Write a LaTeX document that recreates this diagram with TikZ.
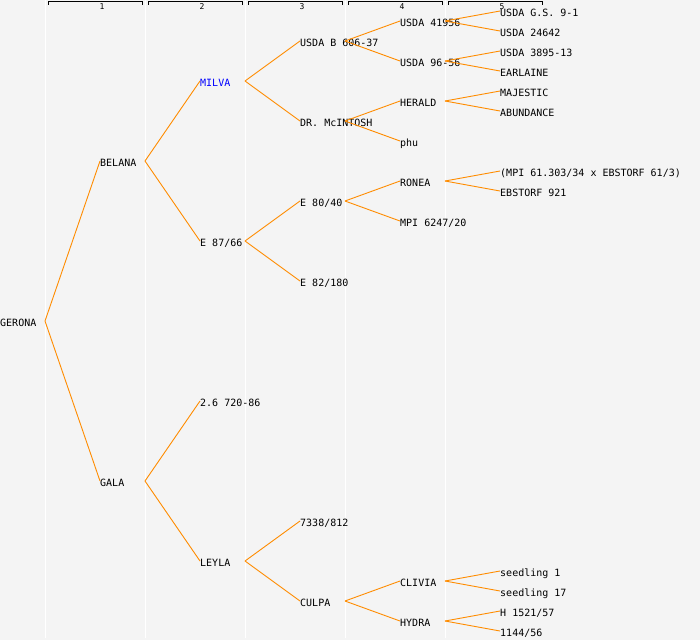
\documentclass[tikz,border=0pt]{standalone}
\usepackage{fontspec}
\setmonofont{DejaVu Sans Mono}
\usepackage{tikz}
\definecolor{panelgray}{HTML}{F4F4F4}
\definecolor{linkorange}{HTML}{FF8C00}
\definecolor{milvablue}{HTML}{0000FF}

\begin{document}
\begin{tikzpicture}[x=1pt,y=-1pt,
    cultivar/.style={anchor=west,inner sep=0pt,text height=10pt,text depth=0pt,font=\ttfamily\fontsize{10}{12}\selectfont},
    gennum/.style={inner sep=0pt,font=\ttfamily\fontsize{8}{9}\selectfont},
    link/.style={draw=linkorange,line width=0.9pt},
    colsep/.style={draw=white,line width=1pt}]

	\useasboundingbox[fill=panelgray] (0,0) rectangle (700,640);
	\foreach \x in {45,145,...,445}
		\draw[colsep] (\x,0) -- (\x,638);

	% generation brackets
	\foreach \g in {1,...,5} {
		\draw[line width=0.9pt] (100*\g-52,4.5) -- (100*\g-52,1.5) -- (100*\g+42,1.5) -- (100*\g+42,4.5);
		\node[gennum] (gen\g) at (100*\g+2,6.5) {\g};
	}

	\node[cultivar] (gerona) at (0,321) {GERONA};

	\node[cultivar] (belana) at (100,161) {BELANA};
	\node[cultivar] (gala) at (100,481) {GALA};

	\node[cultivar,text=milvablue] (milva) at (200,81) {MILVA};
	\node[cultivar] (e8766) at (200,241) {E 87/66};
	\node[cultivar] (p26) at (200,401) {2.6 720-86};
	\node[cultivar] (leyla) at (200,561) {LEYLA};

	\node[cultivar] (usdab) at (300,41) {USDA B 606-37};
	\node[cultivar] (mcintosh) at (300,121) {DR. McINTOSH};
	\node[cultivar] (e8040) at (300,201) {E 80/40};
	\node[cultivar] (e82180) at (300,281) {E 82/180};
	\node[cultivar] (m7338) at (300,521) {7338/812};
	\node[cultivar] (culpa) at (300,601) {CULPA};

	\node[cultivar] (usda41956) at (400,21) {USDA 41956};
	\node[cultivar] (usda9656) at (400,61) {USDA 96-56};
	\node[cultivar] (herald) at (400,101) {HERALD};
	\node[cultivar] (phu) at (400,141) {phu};
	\node[cultivar] (ronea) at (400,181) {RONEA};
	\node[cultivar] (mpi6247) at (400,221) {MPI 6247/20};
	\node[cultivar] (clivia) at (400,581) {CLIVIA};
	\node[cultivar] (hydra) at (400,621) {HYDRA};

	\node[cultivar] (usdags) at (500,11) {USDA G.S. 9-1};
	\node[cultivar] (usda24642) at (500,31) {USDA 24642};
	\node[cultivar] (usda3895) at (500,51) {USDA 3895-13};
	\node[cultivar] (earlaine) at (500,71) {EARLAINE};
	\node[cultivar] (majestic) at (500,91) {MAJESTIC};
	\node[cultivar] (abundance) at (500,111) {ABUNDANCE};
	\node[cultivar] (mpicross) at (500,171) {(MPI 61.303/34 x EBSTORF 61/3)};
	\node[cultivar] (ebstorf) at (500,191) {EBSTORF 921};
	\node[cultivar] (seedlinga) at (500,571) {seedling 1};
	\node[cultivar] (seedlingb) at (500,591) {seedling 17};
	\node[cultivar] (h1521) at (500,611) {H 1521/57};
	\node[cultivar] (n1144) at (500,631) {1144/56};

	% parent -> two parents
	\foreach \p/\a/\b in {gerona/belana/gala, belana/milva/e8766, gala/p26/leyla,
			milva/usdab/mcintosh, e8766/e8040/e82180, leyla/m7338/culpa,
			usdab/usda41956/usda9656, mcintosh/herald/phu, e8040/ronea/mpi6247,
			culpa/clivia/hydra, usda41956/usdags/usda24642, usda9656/usda3895/earlaine,
			herald/majestic/abundance, ronea/mpicross/ebstorf,
			clivia/seedlinga/seedlingb, hydra/h1521/n1144}
		\draw[link] ([xshift=45pt]\p.west) edge (\a.west) edge (\b.west);

\end{tikzpicture}
\end{document}
